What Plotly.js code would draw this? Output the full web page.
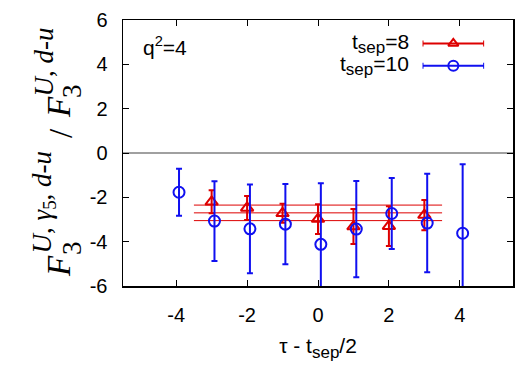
<!DOCTYPE html>
<html>
<head>
<meta charset="utf-8">
<script src="https://cdn.plot.ly/plotly-3.0.1.min.js"></script>
<style>
  html, body { margin: 0; padding: 0; background: #fff; }
  #plot { width: 525px; height: 367px; }
</style>
</head>
<body>
<div id="plot"></div>
<script>
// t_sep = 8 ratios
const xSep8 = [-3, -2, -1, 0, 1, 2, 3];
const ySep8 = [-2.20, -2.48, -2.72, -2.98, -3.32, -3.30, -2.80];
const eSep8 = [0.52, 0.54, 0.43, 0.67, 0.79, 0.90, 0.68];

// t_sep = 10 ratios (drawn slightly shifted to the right)
const xSep10 = [-3.92, -2.92, -1.92, -0.92, 0.08, 1.08, 2.08, 3.08, 4.08];
const ySep10 = [-1.77, -3.07, -3.42, -3.21, -4.12, -3.43, -2.73, -3.16, -3.62];
const eSep10 = [1.06, 1.80, 2.00, 1.81, 2.75, 2.17, 1.60, 2.22, 3.11];

// constant fit to t_sep = 8 with its error band
const fitRange = [-3.5, 3.5];
const fitValue = -2.70;
const fitError = 0.35;

// axis ticks
const xTickVals = [-4, -2, 0, 2, 4];
const xTickText = ['-4', '-2', '0', '2', '4'];
const yTickVals = [-6, -4, -2, 0, 2, 4, 6];
const yTickText = ['-6', '-4', '-2', '0', '2', '4', '6'];

// subscript "sep" drawn a little larger than Plotly's default sub size
const SEP = '<sub><span style="font-size:17px">sep</span></sub>';
const legendLabels = ['t' + SEP + '=8', 't' + SEP + '=10'];

const RED = '#dd0000';
const BLUE = '#1010f0';
const SANS = 'Liberation Sans, Arial, sans-serif';
const SERIF = 'Liberation Serif, Times New Roman, serif';

const traces = [];

// fit band: upper edge, central value, lower edge
[fitValue + fitError, fitValue, fitValue - fitError].forEach(v => {
  traces.push({
    x: fitRange, y: [v, v], mode: 'lines', type: 'scatter',
    line: {color: RED, width: 1}, hoverinfo: 'skip', showlegend: false
  });
});

traces.push({
  x: xSep8, y: ySep8, type: 'scatter', mode: 'markers',
  marker: {symbol: 'triangle-up-open', size: 11, color: RED, line: {width: 2, color: RED}},
  error_y: {type: 'data', array: eSep8, visible: true, color: RED, thickness: 2, width: 3},
  showlegend: false
});

traces.push({
  x: xSep10, y: ySep10, type: 'scatter', mode: 'markers',
  marker: {symbol: 'circle-open', size: 11, color: BLUE, line: {width: 2, color: BLUE}},
  error_y: {type: 'data', array: eSep10, visible: true, color: BLUE, thickness: 2, width: 3},
  showlegend: false
});

// legend swatches, drawn on a small hidden subplot in the upper right
const legendRows = [0.912, 0.828];
const legendStyles = [
  {color: RED, symbol: 'triangle-up-open', size: 9},
  {color: BLUE, symbol: 'circle-open', size: 10}
];
legendStyles.forEach((s, i) => {
  traces.push({
    x: [0], y: [legendRows[i]], xaxis: 'x2', yaxis: 'y2',
    type: 'scatter', mode: 'markers',
    marker: {symbol: s.symbol, size: s.size, color: s.color, line: {width: 2, color: s.color}},
    error_x: {type: 'data', array: [1], visible: true, color: s.color, thickness: 2, width: 3},
    hoverinfo: 'skip', showlegend: false
  });
});

// plot area in pixels: x 123..513, y 20..286
const L = 123, B = 286;

function rotated(text, cx, bottom, size) {
  return {
    text: text, x: 0, y: 0, xref: 'paper', yref: 'paper',
    xshift: cx - L, yshift: B - bottom,
    xanchor: 'center', yanchor: 'bottom', textangle: -90,
    showarrow: false, font: {family: SERIF, size: size, color: '#000'}
  };
}

const annotations = [
  // y-axis title: F_3^{U, γ5, d-u} / F_3^{U, d-u}
  rotated('<i>F</i>', 59, 279, 33),
  rotated('3', 72, 257, 27),
  rotated('<i>U</i>, <i>γ</i><sub>5</sub>, <i>d</i>-<i>u</i>', 43, 256, 27),
  rotated('/', 61, 140, 33),
  rotated('<i>F</i>', 59, 120, 33),
  rotated('3', 72, 100, 27),
  rotated('<i>U</i>, <i>d</i>-<i>u</i>', 43, 99, 27),
  {
    text: 'q<sup>2</sup>=4', x: 0.046, y: 0.96, xref: 'paper', yref: 'paper',
    xanchor: 'left', yanchor: 'top', showarrow: false,
    font: {family: SANS, size: 21, color: '#000'}
  }
];
legendLabels.forEach((t, i) => {
  annotations.push({
    text: t, x: 0.738, y: legendRows[i], xref: 'paper', yref: 'paper',
    xanchor: 'right', yanchor: 'middle', showarrow: false,
    font: {family: SANS, size: 21, color: '#000'}
  });
});

const axisCommon = {
  showline: true, mirror: 'ticks', linecolor: '#000', linewidth: 1.5,
  ticks: 'inside', ticklen: 6, tickwidth: 1, tickcolor: '#000',
  showgrid: false,
  tickfont: {family: SANS, size: 20, color: '#000'}
};

const layout = {
  width: 525, height: 367,
  margin: {l: L, r: 12, t: 20, b: 367 - B},
  paper_bgcolor: '#fff', plot_bgcolor: 'rgba(0,0,0,0)',
  showlegend: false,
  xaxis: Object.assign({}, axisCommon, {
    range: [-5.5, 5.5], tickvals: xTickVals, ticktext: xTickText,
    zeroline: false, ticklabelstandoff: 10,
    title: {text: 'τ - t' + SEP + '/2', standoff: 14,
            font: {family: SANS, size: 21, color: '#000'}}
  }),
  yaxis: Object.assign({}, axisCommon, {
    range: [-6, 6], tickvals: yTickVals, ticktext: yTickText,
    zeroline: true, zerolinecolor: '#a0a0a0', zerolinewidth: 1.5,
    ticklabelstandoff: 10
  }),
  xaxis2: {domain: [0.768, 0.926], range: [-1, 1], anchor: 'y2', visible: false, fixedrange: true},
  yaxis2: {domain: [0, 1], range: [0, 1], anchor: 'x2', visible: false, fixedrange: true},
  annotations: annotations
};

Plotly.newPlot('plot', traces, layout, {displayModeBar: false, staticPlot: true});
</script>
</body>
</html>
